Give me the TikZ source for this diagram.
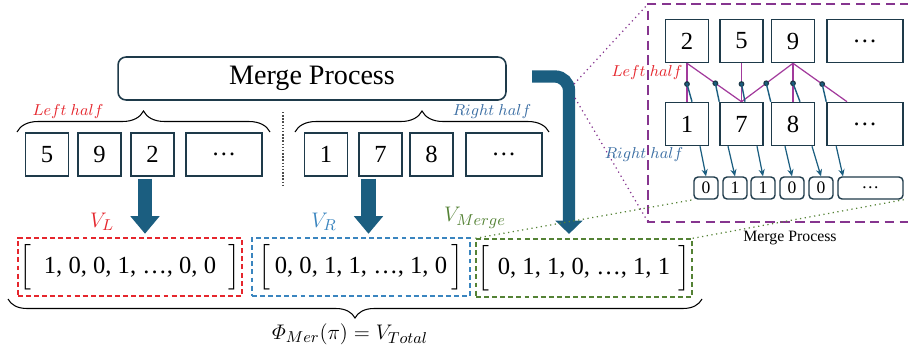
\documentclass[tikz,border=0pt]{standalone}
\usepackage{amsmath}
\usepackage{fontspec}
\setmainfont{Liberation Serif}
\usepackage{tikz}
\usetikzlibrary{positioning, calc, arrows.meta, decorations.pathreplacing}
\usepackage{xcolor}
\definecolor{xteal}{HTML}{1B5E80}
\definecolor{xink}{HTML}{1E3A4A}
\definecolor{xred}{HTML}{E5262D}
\definecolor{xblue}{HTML}{3A85BF}
\definecolor{xnavy}{HTML}{3B6EA3}
\definecolor{xgreen}{HTML}{548235}
\definecolor{xpurple}{HTML}{86358F}
\definecolor{xmagenta}{HTML}{A23A9C}
\tikzset{
	cell/.style={draw=xink, line width=0.9pt, minimum width=0.86cm, minimum height=0.86cm, inner sep=0pt, font=\fontsize{14}{16}\selectfont},
	widecell/.style={cell, minimum width=1.52cm},
	bitcell/.style={draw=xink, line width=0.8pt, rounded corners=0.08cm, minimum width=0.48cm, minimum height=0.44cm, inner sep=0pt, font=\fontsize{10}{12}\selectfont},
	vecbox/.style={line width=0.8pt, dash pattern=on 2.8pt off 1.8pt, minimum height=1.16cm, inner sep=0pt, font=\fontsize{14}{16}\selectfont},
	halflabel/.style={font=\fontsize{9.5}{11}\selectfont},
	veclabel/.style={font=\fontsize{13}{15}\selectfont},
	bigarrow/.style={xteal, line width=8pt, -{Triangle[width=16pt, length=10pt]}},
	bitarrow/.style={xteal, line width=0.7pt, -{Stealth[length=4pt, width=3.5pt]}},
	mergeline/.style={xmagenta, line width=0.7pt},
	cmpline/.style={xteal, line width=0.8pt},
	cmpdot/.style={circle, fill=xteal, draw=xink, inner sep=0pt, minimum size=0.09cm},
	curly/.style={decorate, decoration={brace, amplitude=#1}, line width=0.6pt},
}

\begin{document}
\begin{tikzpicture}[x=0.02cm, y=-0.02cm]
	\useasboundingbox (0,0) rectangle (908,349);

	% Merge process and the two halves
	\node[draw=xink, line width=0.9pt, rounded corners=0.16cm, minimum width=7.76cm, minimum height=0.86cm, font=\fontsize{16}{19}\selectfont] (merge) at (312,78.5) {Merge Process};

	\node[cell] (l1) at (47,154.5) {5};
	\node[cell] (l2) at (99.5,154.5) {9};
	\node[cell] (l3) at (152.5,154.5) {2};
	\node[widecell] (l4) at (224,154.5) {…};

	\node[cell] (r1) at (326,154.5) {1};
	\node[cell] (r2) at (380.5,154.5) {7};
	\node[cell] (r3) at (431.5,154.5) {8};
	\node[widecell] (r4) at (504,154.5) {…};

	\draw[curly=0.42cm] (17,132) -- (270,132);
	\draw[curly=0.42cm] (295,132) -- (549,132);
	\node[halflabel, text=xred] (lefthalf) at (68,112) {$Left\ half$};
	\node[halflabel, text=xnavy] (righthalf) at (492,112) {$Right\ half$};
	\draw[gray!60!black, densely dotted, line width=0.8pt] (283,112) -- (283,187);

	% Vectors
	\node[vecbox, draw=xred, minimum width=4.48cm] (vl) at (130,267) {$\Big[$\enspace 1, 0, 0, 1, …, 0, 0\enspace$\Big]$};
	\node[vecbox, draw=xblue, minimum width=4.36cm] (vr) at (361,267) {$\Big[$\,0, 0, 1, 1, …, 1, 0\,$\Big]$};
	\node[vecbox, draw=xgreen, minimum width=4.32cm] (vm) at (584,268) {$\Big[$\,\,0, 1, 1, 0, …, 1, 1\,\,$\Big]$};

	\node[veclabel, text=xred] (vllabel) at (102,222) {$V_L$};
	\node[veclabel, text=xblue] (vrlabel) at (324,222) {$V_R$};
	\node[veclabel, text=xgreen, inner sep=1pt] (vmlabel) at (475,218) {$V_{Merge}$};

	\coordinate (l3out) at ([xshift=-0.15cm]l3.south);
	\coordinate (r2out) at ([xshift=-0.24cm]r2.south);
	\draw[bigarrow, shorten <=1pt, shorten >=2pt] (l3out) -- (l3out |- vl.north);
	\draw[bigarrow, shorten <=1pt, shorten >=2pt] (r2out) -- (r2out |- vr.north);

	\coordinate (tail) at (532,76.5);
	\draw[bigarrow, line width=7pt, -{Triangle[width=15pt, length=7.5pt]}, rounded corners=0.28cm, shorten >=2.5pt] (tail) -| ([xshift=-0.3cm]vm.north);

	\draw[curly=0.38cm] (702,299) -- (8,299);
	\node[font=\fontsize{13}{15}\selectfont] (total) at (350,334) {$\varPhi_{Mer}(\pi) = V_{Total}$};

	% Zoomed merge step
	\coordinate (inTL) at (648,4);
	\coordinate (inBL) at (648,222);
	\draw[xpurple, line width=1.1pt, dash pattern=on 5.5pt off 3pt] (940,4) -- (inTL) -- (inBL) -- (940,222);
	\coordinate (zoomtop) at (574,84);
	\coordinate (zoombot) at (575,98);
	\draw[xpurple, dotted, line width=0.7pt] (zoomtop) -- (inTL);
	\draw[xpurple, dotted, line width=0.7pt] (zoombot) -- (inBL);

	\node[cell] (i1) at (687,41) {2};
	\node[cell] (i2) at (741.5,41) {5};
	\node[cell] (i3) at (793,41) {9};
	\node[widecell] (i4) at (865,41) {…};

	\node[cell] (j1) at (687,124) {1};
	\node[cell] (j2) at (741.5,124) {7};
	\node[cell] (j3) at (793,124) {8};
	\node[widecell] (j4) at (865,124) {…};

	\draw[mergeline] (i1.south) -- node[cmpdot, pos=0.54] (c1) {} (j1.north);
	\draw[mergeline] (i1.south) -- node[cmpdot, pos=0.52] (c2) {} (j2.north);
	\draw[mergeline] (i2.south) -- node[cmpdot, pos=0.54] (c3) {} (j2.north);
	\draw[mergeline] (i3.south) -- node[cmpdot, pos=0.52] (c4) {} (j2.north);
	\draw[mergeline] (i3.south) -- node[cmpdot, pos=0.52] (c5) {} (j3.north);
	\draw[mergeline] (i3.south) -- node[cmpdot, pos=0.54] (c6) {} ([xshift=-0.36cm]j4.north);

	\draw[cmpline] (c1.center) -- ([xshift=0.1cm]j1.north);
	\draw[cmpline] (c2.center) -- (j2.north west);
	\draw[cmpline] (c3.center) -- ([xshift=0.07cm]j2.north);
	\draw[cmpline] (c4.center) -- (j3.north west);
	\draw[cmpline] (c5.center) -- ([xshift=0.14cm]j3.north);
	\draw[cmpline] (c6.center) -- (j4.north west);

	\node[halflabel, text=xred] (inleft) at (647,73) {$Left\ half$};
	\node[halflabel, text=xnavy] (inright) at (644,155) {$Right\ half$};

	\node[bitcell] (k1) at (706,188) {0};
	\node[bitcell] (k2) at (735,188) {1};
	\node[bitcell] (k3) at (763,188) {1};
	\node[bitcell] (k4) at (792,188) {0};
	\node[bitcell] (k5) at (821,188) {0};
	\node[bitcell, minimum width=1.3cm] (k6) at (870.5,188) {…};

	\draw[bitarrow] ([xshift=0.26cm]j1.south) -- (k1.north);
	\draw[bitarrow] ([xshift=-0.27cm]j2.south) -- (k2.north);
	\draw[bitarrow] ([xshift=0.31cm]j2.south) -- (k3.north);
	\draw[bitarrow] ([xshift=-0.16cm]j3.south) -- (k4.north);
	\draw[bitarrow] ([xshift=0.38cm]j3.south) -- (k5.north);
	\draw[bitarrow] ([xshift=0.2cm]j4.south west) -- ([xshift=-0.55cm]k6.north);

	\node[font=\fontsize{9}{11}\selectfont] (mplabel) at (790,238) {Merge Process};

	\draw[xgreen, dotted, line width=0.7pt] (vm.north west) -- (k1.south west);
	\draw[xgreen, dotted, line width=0.7pt] (vm.north east) -- (k6.south east);
\end{tikzpicture}
\end{document}
